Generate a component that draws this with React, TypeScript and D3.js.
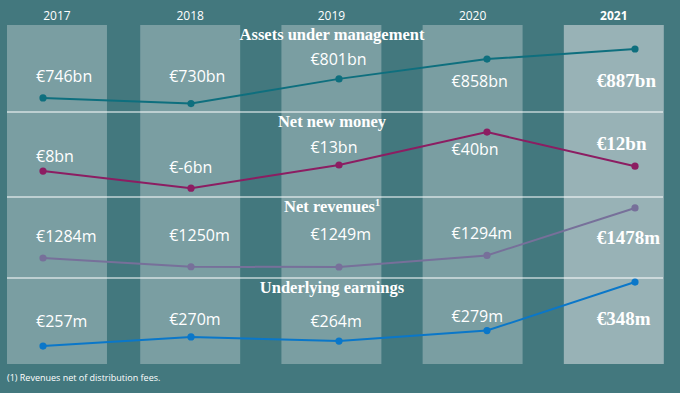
import React from "react";
import * as d3 from "d3";

const years = ["2017", "2018", "2019", "2020", "2021"];
const aum = [746, 730, 801, 858, 887];
const netNewMoney = [8, -6, 13, 40, 12];
const netRevenues = [1284, 1250, 1249, 1294, 1478];
const earnings = [257, 270, 264, 279, 348];
const titles = ["Assets under management", "Net new money", "Net revenues", "Underlying earnings"];
const units = ["bn", "bn", "m", "m"];
const footnote = "(1) Revenues net of distribution fees.";

const W = 680;
const H = 393;
const BG = "#43787e";
const COL = "#7a9ea2";
const COL_HI = "#98b2b6";

const panels = [
  { title: titles[0], values: aum, unit: units[0], color: "#0e6f7e", top: 25, domain: [720, 900], range: [107, 44.5], labelDy: [57, 57, 40, 62, 62] },
  { title: titles[1], values: netNewMoney, unit: units[1], color: "#8c1d62", top: 112, domain: [-10, 45], range: [193, 126], labelDy: [50, 61, 41, 43, 38] },
  { title: titles[2], values: netRevenues, unit: units[2], color: "#77709a", top: 197, domain: [1220, 1500], range: [274.5, 202.3], labelDy: [45, 44, 43, 42, 47], sup: true },
  { title: titles[3], values: earnings, unit: units[3], color: "#0a77c9", top: 278, domain: [240, 360], range: [358, 273.6], labelDy: [49, 47, 49, 44, 47] },
];

const colTop = 25;
const colBottom = 364;
const left = 7;
const right = 663;

export default function App() {
  const band = d3.scaleBand<string>().domain(years).range([-1, 663.8]).paddingInner(0.292).paddingOuter(0);
  const bw = band.bandwidth();
  const colX = (y: string) => Math.max(band(y) as number, left);
  const px = d3.scalePoint<string>().domain(years).range([43, 635]);
  const sans = "'Open Sans', 'Noto Sans', sans-serif";
  const serif = "'Liberation Serif', 'Times New Roman', serif";

  return (
    <div style={{ position: "absolute", left: 0, top: 0 }}>
      <svg width={W} height={H} style={{ display: "block" }}>
        <rect x={0} y={0} width={W} height={H} fill={BG} />
        {years.map((y, i) => (
          <rect key={y} x={colX(y)} y={colTop} width={bw} height={colBottom - colTop} fill={i === years.length - 1 ? COL_HI : COL} />
        ))}
        {years.map((y, i) => (
          <text key={"yr" + y} x={colX(y) + bw / 2} y={20} textAnchor="middle" fill="#ffffff" fontFamily={sans} fontSize={12} fontWeight={i === years.length - 1 ? 700 : 400}>
            {y}
          </text>
        ))}
        {panels.slice(1).map((p) => (
          <line key={"sep" + p.top} x1={left} x2={right} y1={p.top} y2={p.top} stroke="#ffffff" strokeWidth={1.2} />
        ))}
        {panels.map((p) => {
          const ys = d3.scaleLinear().domain(p.domain).range(p.range);
          const line = d3.line<number>().x((_, i) => px(years[i]) as number).y((v) => ys(v));
          return (
            <g key={p.title}>
              <text x={332} y={p.top + 14.5} textAnchor="middle" fill="#ffffff" fontFamily={serif} fontWeight={700} fontSize={16.5}>
                {p.title}
                {p.sup ? <tspan fontSize={10} dy={-6}>1</tspan> : null}
              </text>
              <path d={line(p.values) || ""} fill="none" stroke={p.color} strokeWidth={2} />
              {p.values.map((v, i) => (
                <circle key={i} cx={px(years[i]) as number} cy={ys(v)} r={3.6} fill={p.color} />
              ))}
              {p.values.map((v, i) => {
                const last = i === years.length - 1;
                return (
                  <text
                    key={"l" + i}
                    x={colX(years[i]) + (last ? 33 : 29)}
                    y={p.top + p.labelDy[i]}
                    fill="#ffffff"
                    fontFamily={last ? serif : sans}
                    fontWeight={last ? 700 : 400}
                    fontSize={last ? 19 : 16}
                  >
                    {`€${v}${p.unit}`}
                  </text>
                );
              })}
            </g>
          );
        })}
        <text x={7} y={381} fill="#ffffff" fontFamily={sans} fontSize={9}>
          {footnote}
        </text>
      </svg>
    </div>
  );
}
